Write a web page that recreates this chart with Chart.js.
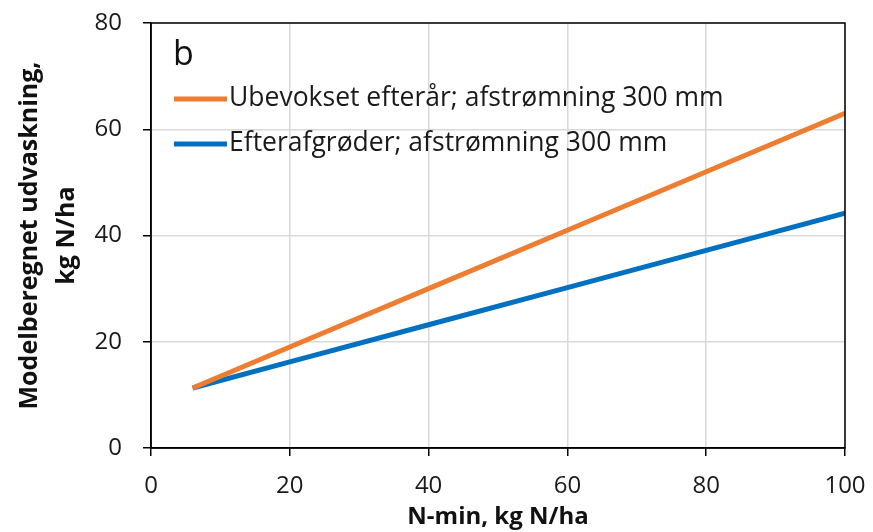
<!DOCTYPE html>
<html>
<head>
<meta charset="utf-8">
<script src="https://cdn.jsdelivr.net/npm/chart.js@4"></script>
<style>
  html, body { margin: 0; padding: 0; background: #fff; }
  .chart { width: 873px; height: 532px; }
</style>
</head>
<body>
<div class="chart">
  <canvas id="myChart" width="873" height="532"></canvas>
</div>
<script>
  // data
  const nMin = [6, 20, 40, 60, 80, 100];
  const ubevokset = [11.3, 19.0, 30.0, 41.0, 52.0, 63.0];
  const efterafgroder = [11.3, 16.2, 23.2, 30.2, 37.2, 44.2];
  const seriesNames = ['Ubevokset efterår; afstrømning 300 mm', 'Efterafgrøder; afstrømning 300 mm'];
  const panelLabel = 'b';

  const FONT = "'Open Sans', sans-serif";

  // legend inside the plot + frame on top/right
  const insideLegend = {
    id: 'insideLegend',
    afterDraw(chart) {
      const c = chart.ctx;
      const a = chart.chartArea;
      c.save();
      c.strokeStyle = '#000';
      c.lineWidth = 1.5;
      c.strokeRect(a.left, a.top, a.right - a.left, a.bottom - a.top);

      c.fillStyle = '#111';
      c.font = '34px ' + FONT;
      c.textBaseline = 'alphabetic';
      c.fillText(panelLabel, a.left + 22, a.top + 42);

      c.font = '26.5px ' + FONT;
      c.textBaseline = 'middle';
      chart.data.datasets.forEach((ds, i) => {
        const y = a.top + 76 + i * 45;
        c.strokeStyle = ds.borderColor;
        c.lineWidth = 5;
        c.beginPath();
        c.moveTo(a.left + 23, y);
        c.lineTo(a.left + 76, y);
        c.stroke();
        c.fillStyle = '#1a1a1a';
        c.fillText(ds.label, a.left + 78, y - 1);
      });
      c.restore();
    }
  };

  const ctx = document.getElementById('myChart').getContext('2d');
  const myChart = new Chart(ctx, {
    type: 'line',
    data: {
      datasets: [
        {
          label: seriesNames[0],
          data: nMin.map((x, i) => ({ x: x, y: ubevokset[i] })),
          borderColor: '#ED7D31',
          borderWidth: 5,
          pointRadius: 0,
          fill: false,
        },
        {
          label: seriesNames[1],
          data: nMin.map((x, i) => ({ x: x, y: efterafgroder[i] })),
          borderColor: '#0070C0',
          borderWidth: 5,
          pointRadius: 0,
          fill: false,
        },
      ],
    },
    options: {
      responsive: false,
      animation: false,
      layout: { padding: { left: 11, right: 28, top: 23, bottom: 0 } },
      plugins: {
        legend: { display: false },
        tooltip: { enabled: false },
      },
      scales: {
        x: {
          type: 'linear',
          min: 0,
          max: 100,
          ticks: { stepSize: 20, color: '#1a1a1a', font: { family: FONT, size: 24 }, padding: 16 },
          grid: { color: '#d9d9d9', lineWidth: 1.5, tickColor: '#000', tickLength: 8 },
          border: { color: '#000', width: 1.5 },
          title: {
            display: true,
            text: 'N-min, kg N/ha',
            color: '#111',
            font: { family: FONT, size: 24, weight: 'bold' },
            padding: { top: 0, bottom: 0 },
          },
          afterFit(scale) {
            scale.height = 84;
            scale.paddingLeft = 0;
            scale.paddingRight = 0;
          },
        },
        y: {
          min: 0,
          max: 80,
          ticks: { stepSize: 20, color: '#1a1a1a', font: { family: FONT, size: 24 }, padding: 21 },
          grid: { color: '#d9d9d9', lineWidth: 1.5, tickColor: '#000', tickLength: 8 },
          border: { color: '#000', width: 1.5 },
          title: {
            display: true,
            text: ['Modelberegnet udvaskning,', 'kg N/ha'],
            color: '#111',
            font: { family: FONT, size: 25, weight: 'bold', lineHeight: 1.5 },
            padding: { top: 0, bottom: 0 },
          },
          afterFit(scale) {
            scale.width = 140;
            scale.paddingTop = 0;
            scale.paddingBottom = 0;
          },
        },
      },
    },
    plugins: [insideLegend],
  });
</script>
</body>
</html>
